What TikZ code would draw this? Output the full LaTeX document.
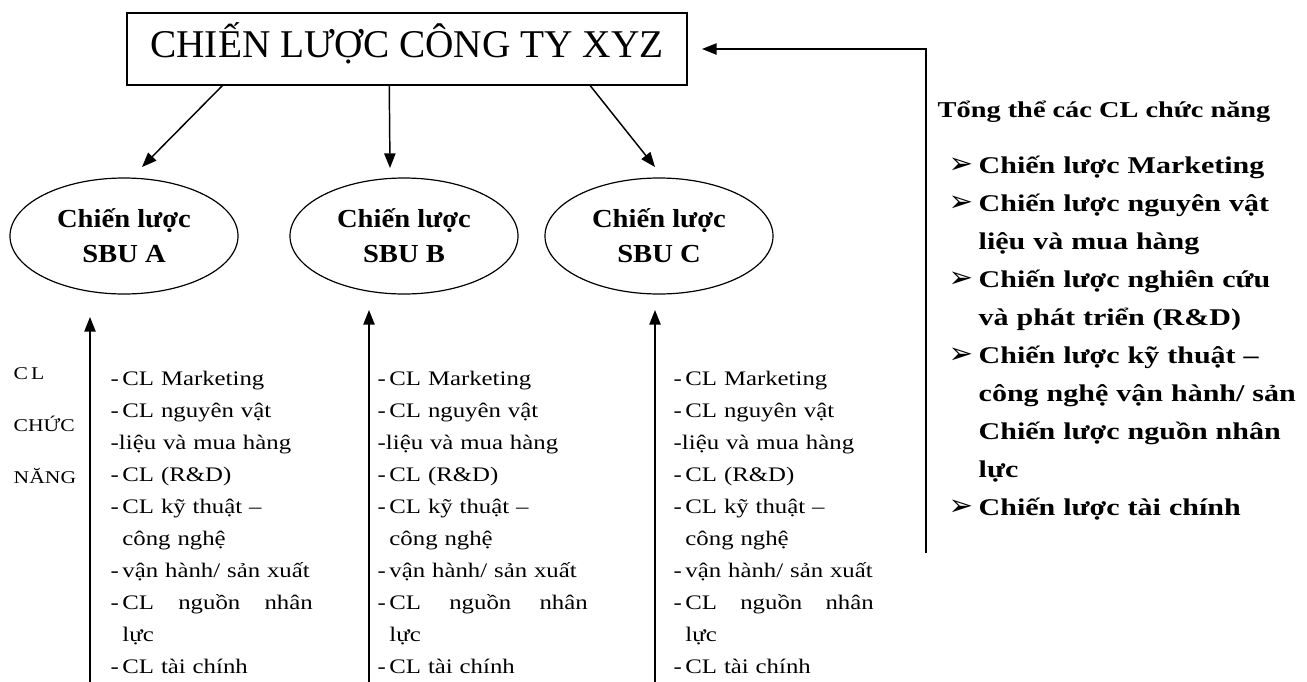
\documentclass[tikz,border=0pt]{standalone}
\usepackage{fontspec}
\setmainfont{Liberation Serif}
\newfontfamily\listfont[FakeStretch=1.2]{Liberation Serif}
\newfontfamily\sbufont[FakeStretch=1.1]{Liberation Serif}
\newfontfamily\rightfont[FakeStretch=1.25]{Liberation Serif}
\newfontfamily\bulletfont{DejaVu Sans}
\usetikzlibrary{arrows.meta,shapes.geometric,calc}
\setlength\parindent{0pt}
\newcommand\spreadln[2]{\makebox[#1][s]{#2}}
\newcommand\rbul{\makebox[22.5pt][l]{\bulletfont\fontsize{22}{22}\selectfont ➢}}
\newcommand\rind{\hspace*{22.5pt}}
\newcommand\lind{\phantom{-\,}}
\begin{document}
\begin{tikzpicture}[x=0.75pt,y=-0.75pt,line width=1.1pt,
  arr/.style={-{Triangle[length=11pt,width=8.5pt]}},
  titlebox/.style={draw,rectangle,minimum width=420pt,inner xsep=0pt,inner ysep=0pt,
    text height=33pt,text depth=21pt,font=\fontsize{29.5}{34}\selectfont},
  sbu/.style={draw,ellipse,line width=0.9pt,inner sep=0pt,minimum width=171pt,minimum height=87pt,
    align=center,font=\sbufont\bfseries\fontsize{19.5}{26.25}\selectfont},
  flist/.style={anchor=base west,inner sep=0pt,align=left,
    font=\listfont\fontsize{15.5}{24}\selectfont},
  sidelabel/.style={anchor=base west,inner sep=0pt,align=left,
    font=\listfont\fontsize{13.5}{39}\selectfont},
  rhead/.style={anchor=base west,inner sep=0pt,
    font=\rightfont\bfseries\fontsize{17}{20}\selectfont},
  rlist/.style={anchor=base west,inner sep=0pt,align=left,text width=262pt,
    font=\rightfont\bfseries\fontsize{18}{28.5}\selectfont}
]
\useasboundingbox[fill=white] (0,0) rectangle (1307,682);

% title
\node[titlebox] (title) at (407,49) {CHIẾN LƯỢC CÔNG TY XYZ};

% SBU ellipses
\node[sbu] (sA) at (124,236) {Chiến lược\\SBU A};
\node[sbu] (sB) at (404,236) {Chiến lược\\SBU B};
\node[sbu] (sC) at (659,236) {Chiến lược\\SBU C};

% arrow tips above ellipses
\coordinate (tA) at (142,167);
\coordinate (tB) at (390,168);
\coordinate (tC) at (655,167);
\draw[arr] ($(title.south west)+(96,0)$) -- (tA);
\draw[arr] ($(title.south west)+(263,0)$) -- (tB);
\draw[arr] ($(title.south west)+(464,0)$) -- (tC);

% upward arrows
\coordinate (bA) at (90,682);  \coordinate (uA) at (90,317);
\coordinate (bB) at (369,682); \coordinate (uB) at (369,310);
\coordinate (bC) at (655,682); \coordinate (uC) at (655,310);
\draw[arr] (bA) -- (uA);
\draw[arr] (bB) -- (uB);
\draw[arr] (bC) -- (uC);

% side label
\node[sidelabel] (lab) at (13,483) {C\,L\\CHỨC\\NĂNG};

% functional lists
\node[flist,text width=151.5pt] (lA) at (110,385) {%
-\,CL Marketing\\
-\,CL nguyên vật\\
-liệu và mua hàng\\
-\,CL (R\&D)\\
-\,CL kỹ thuật –\\
\lind công nghệ\\
-\,vận hành/ sản xuất\\
\spreadln{151.5pt}{-\,CL\hfill nguồn\hfill nhân}\\
\lind lực\\
-\,CL tài chính};
\node[flist,text width=157.5pt] (lB) at (377,385) {%
-\,CL Marketing\\
-\,CL nguyên vật\\
-liệu và mua hàng\\
-\,CL (R\&D)\\
-\,CL kỹ thuật –\\
\lind công nghệ\\
-\,vận hành/ sản xuất\\
\spreadln{157.5pt}{-\,CL\hfill nguồn\hfill nhân}\\
\lind lực\\
-\,CL tài chính};
\node[flist,text width=150pt] (lC) at (673,385) {%
-\,CL Marketing\\
-\,CL nguyên vật\\
-liệu và mua hàng\\
-\,CL (R\&D)\\
-\,CL kỹ thuật –\\
\lind công nghệ\\
-\,vận hành/ sản xuất\\
\spreadln{150pt}{-\,CL\hfill nguồn\hfill nhân}\\
\lind lực\\
-\,CL tài chính};

% right panel
\coordinate (rb) at (926,553);
\coordinate (rt) at (702,49);
\draw[arr] (rb) |- (rt);
\node[rhead] (rh) at (937,117) {Tổng thể các CL chức năng};
\node[rlist] (rl) at (948,173) {%
\rbul Chiến lược Marketing\\
\rbul Chiến lược nguyên vật\\
\rind liệu và mua hàng\\
\rbul Chiến lược nghiên cứu\\
\rind và phát triển (R\&D)\\
\rbul Chiến lược kỹ thuật –\\
\rind công nghệ vận hành/ sản\\
\rind Chiến lược nguồn nhân\\
\rind lực\\
\rbul Chiến lược tài chính};
\end{tikzpicture}
\end{document}
